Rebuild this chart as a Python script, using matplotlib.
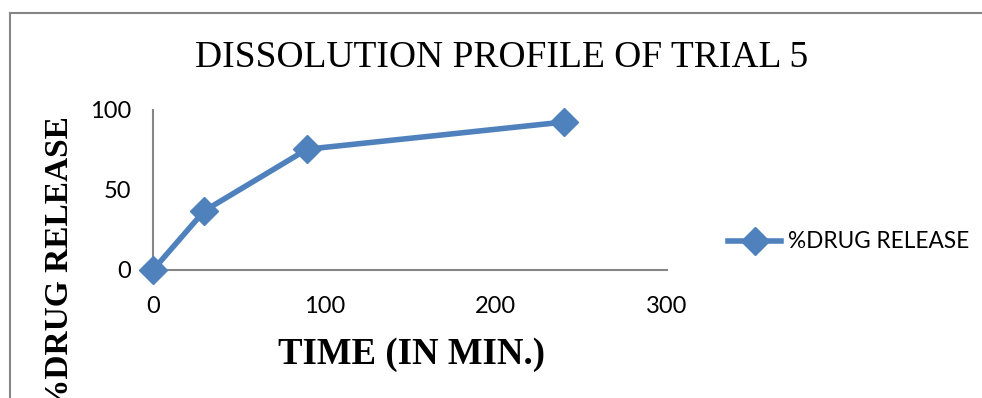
import matplotlib
matplotlib.use("Agg")
import matplotlib.pyplot as plt
from matplotlib.lines import Line2D

# Dissolution data for trial 5
time_min = [0, 30, 90, 240]
drug_release = [0, 37, 75.5, 92.5]
x_ticks = [0, 100, 200, 300]
y_ticks = [0, 50, 100]

BLUE = "#4F81BD"
GREY = "#868686"
W, H = 982, 398

fig = plt.figure(figsize=(W / 100, H / 100), dpi=100)
fig.patch.set_facecolor("white")

# chart frame (left and top edges visible)
fig.add_artist(Line2D([10 / W, 10 / W], [0, 1 - 13 / H], color=GREY, lw=1.5))
fig.add_artist(Line2D([10 / W, 1], [1 - 13 / H, 1 - 13 / H], color=GREY, lw=1.5))

ax = fig.add_axes([153 / W, 1 - 270 / H, (667 - 153) / W, 160 / H])
ax.plot(time_min, drug_release, color=BLUE, lw=4, marker="D", ms=14,
        label="%DRUG RELEASE", clip_on=False, zorder=3)

ax.set_xlim(0, 300)
ax.set_ylim(0, 100)
ax.set_xticks(x_ticks)
ax.set_yticks(y_ticks)
for side in ("top", "right"):
    ax.spines[side].set_visible(False)
for side in ("left", "bottom"):
    ax.spines[side].set_color(GREY)
    ax.spines[side].set_linewidth(1.5)
ax.tick_params(length=0, labelsize=17)
ax.tick_params(axis="x", pad=19)
ax.tick_params(axis="y", pad=16)
for lab in ax.get_xticklabels() + ax.get_yticklabels():
    lab.set_fontfamily("Lato")

fig.text(502 / W, 1 - 58 / H, "DISSOLUTION PROFILE OF TRIAL 5",
         ha="center", va="center", fontsize=27, family="Liberation Serif")
fig.text(411 / W, 1 - 354 / H, "TIME (IN MIN.)", ha="center", va="center",
         fontsize=26.5, fontweight="bold", family="Liberation Serif")
fig.text(60 / W, 1 - 264 / H, "%DRUG RELEASE", ha="center", va="center",
         rotation=90, fontsize=24, fontweight="bold", family="Liberation Serif")

fig.legend(loc="center left", bbox_to_anchor=(728 / W, 1 - 242 / H),
           frameon=False, handlelength=2.35, handletextpad=0.3,
           borderpad=0, borderaxespad=0,
           prop={"family": "Lato", "size": 16.3})

fig.savefig("out.png", dpi=100)
